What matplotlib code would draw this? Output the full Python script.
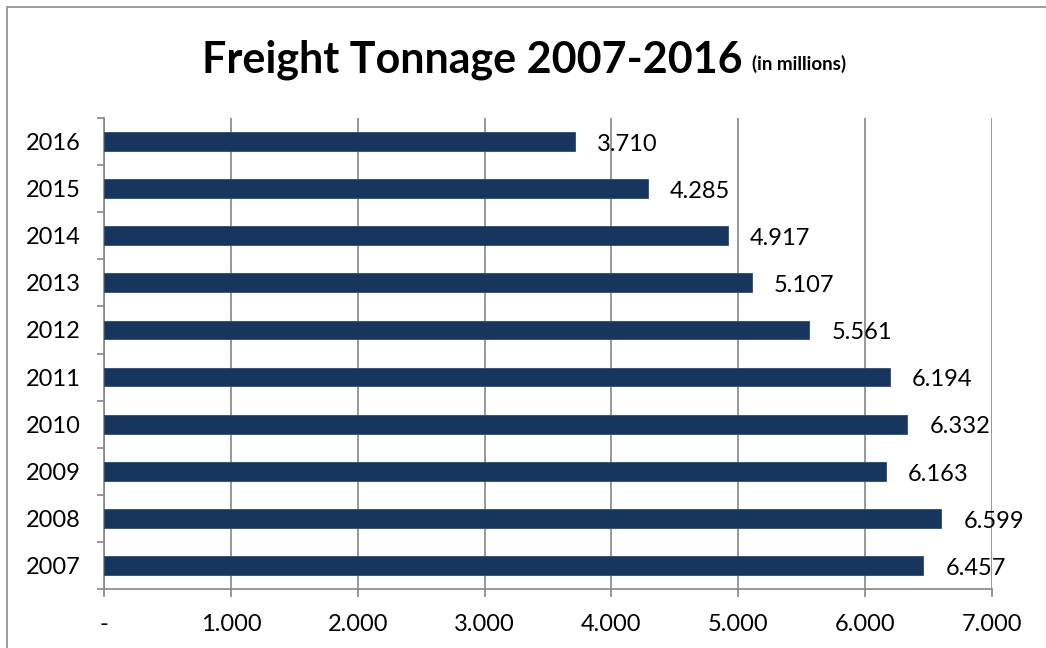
import matplotlib
matplotlib.use("Agg")
import matplotlib.pyplot as plt
from matplotlib.patches import Rectangle
from matplotlib.ticker import FixedLocator

# Freight tonnage per year (millions)
years = ["2007", "2008", "2009", "2010", "2011", "2012", "2013", "2014", "2015", "2016"]
tonnage = [6.457, 6.599, 6.163, 6.332, 6.194, 5.561, 5.107, 4.917, 4.285, 3.710]
xticks = [0, 1, 2, 3, 4, 5, 6, 7]
xlabels = ["-", "1.000", "2.000", "3.000", "4.000", "5.000", "6.000", "7.000"]

bar_color = "#17365D"
grid_color = "#868686"

plt.rcParams["font.family"] = ["Lato", "DejaVu Sans"]

fig = plt.figure(figsize=(10.46, 6.48), dpi=100)
ax = fig.add_axes([104 / 1046, 1 - 589 / 648, 888 / 1046, 471 / 648])

pos = list(range(len(years)))
ax.barh(pos, tonnage, height=0.4, color=bar_color, edgecolor="#2C4C7A", linewidth=0.6, zorder=3)

for y, v in zip(pos, tonnage):
    ax.annotate("{:.3f}".format(v), (v, y), xytext=(16, -2), textcoords="offset points",
                ha="left", va="center", fontsize=17, color="black", zorder=4)

ax.set_xlim(0, 7)
ax.set_ylim(-0.5, len(years) - 0.5)
ax.set_xticks(xticks)
ax.set_xticklabels(xlabels, fontsize=17)
ax.set_yticks(pos)
ax.set_yticklabels(years, fontsize=17)
ax.yaxis.set_minor_locator(FixedLocator([p - 0.5 for p in pos] + [len(years) - 0.5]))

ax.tick_params(axis="y", which="major", length=0, pad=17)
ax.tick_params(axis="y", which="minor", length=5, width=1.2, color=grid_color)
ax.tick_params(axis="x", which="major", length=6, width=1.2, color=grid_color, pad=12)

ax.grid(axis="x", color=grid_color, linewidth=1.2, zorder=0)
for side in ["top", "right"]:
    ax.spines[side].set_visible(False)
for side in ["left", "bottom"]:
    ax.spines[side].set_color(grid_color)
    ax.spines[side].set_linewidth(1.2)

# title in two parts
fig.text(742 / 1046, 1 - 73 / 648, "Freight Tonnage 2007-2016", ha="right", va="baseline",
         fontsize=31, fontweight="bold")
fig.text(752 / 1046, 1 - 70 / 648, "(in millions)", ha="left", va="baseline",
         fontsize=13.5, fontweight="bold")

# outer chart border
fig.patches.append(Rectangle((7 / 1046, -0.1), 1.2, 1 - 7 / 648 + 0.1, transform=fig.transFigure,
                             fill=False, edgecolor="#8C8C8C", linewidth=1.2))

fig.savefig("out.png", dpi=100)
